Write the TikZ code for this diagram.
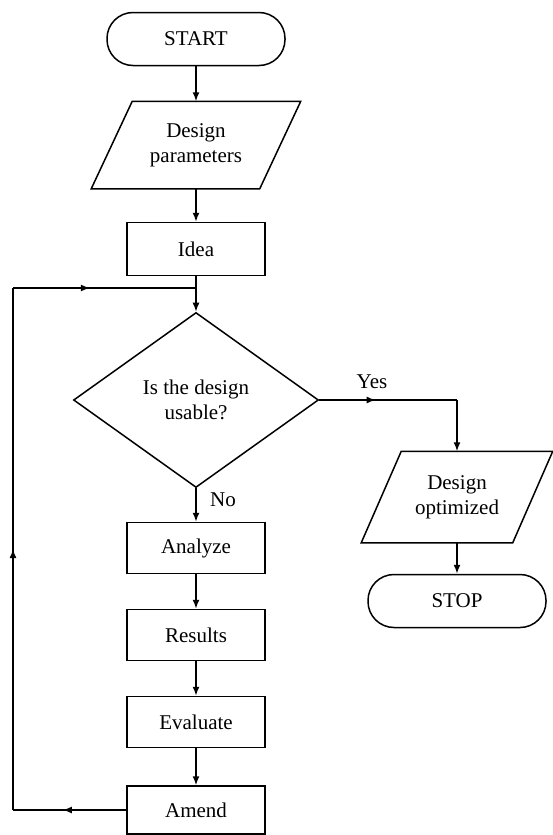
\documentclass[tikz,border=0pt]{standalone}
\usepackage{fontspec}
\setmainfont{Liberation Serif}
\usetikzlibrary{shapes.geometric,arrows.meta,decorations.markings}
\begin{document}
\begin{tikzpicture}[x=1pt,y=-1pt,
  line width=1.5pt,
  every node/.style={font=\fontsize{21}{25}\selectfont},
  arr/.style={-{Latex[length=9pt,width=7pt]}},
  midtip/.style={postaction={decorate},decoration={markings,mark=at position #1 with {\arrow{Latex[length=9pt,width=7pt]}}}},
  pill/.style={draw,rectangle,rounded corners=26pt,minimum width=178pt,minimum height=53pt,inner sep=0pt},
  procbox/.style={draw,rectangle,minimum width=138pt,minimum height=51pt,inner sep=0pt},
  iobox/.style={rectangle,align=center,inner sep=0pt},
  decision/.style={draw,diamond,minimum width=245pt,minimum height=175pt,inner sep=0pt,align=center},
  lbl/.style={inner sep=0pt}]
\useasboundingbox (0,0) rectangle (552,835);
% nodes
\node[pill] (start) at (196,39) {START};
\node[iobox,minimum width=167pt,minimum height=86pt] (dp) at (196,145) {Design\\parameters};
\draw ([xshift=20.5pt]dp.north west) -- ([xshift=20.5pt]dp.north east) -- ([xshift=-20.5pt]dp.south east) -- ([xshift=-20.5pt]dp.south west) -- cycle;
\node[procbox,minimum height=53pt] (idea) at (196,249) {Idea};
\node[decision] (dia) at (196,400) {Is the design\\usable?};
\node[iobox,minimum width=150pt,minimum height=90pt] (dopt) at (457,497) {Design\\optimized};
\draw ([xshift=20pt]dopt.north west) -- ([xshift=20pt]dopt.north east) -- ([xshift=-20pt]dopt.south east) -- ([xshift=-20pt]dopt.south west) -- cycle;
\node[pill] (stop) at (457,601) {STOP};
\node[procbox] (analyze) at (196,548) {Analyze};
\node[procbox] (results) at (196,635) {Results};
\node[procbox] (evaluate) at (196,722) {Evaluate};
\node[procbox,minimum height=48pt] (amend) at (196,810) {Amend};
\node[lbl] (yes) at (372,382) {Yes};
\node[lbl] (no) at (223,500) {No};
% coordinates
\coordinate (join) at (196,288);
\coordinate (ycorner) at (457,400);
\coordinate (lb) at (13,810);
\coordinate (lt) at (13,288);
% connectors
\draw[arr] (start) -- (dp);
\draw[arr] (dp) -- (idea);
\draw[arr] (idea) -- (dia);
\draw[midtip=0.41] (dia.east) -- (ycorner);
\draw[arr] (ycorner) -- (dopt.north);
\draw[arr] (dopt) -- (stop);
\draw[arr] (dia) -- (analyze);
\draw[arr] (analyze) -- (results);
\draw[arr] (results) -- (evaluate);
\draw[arr] (evaluate) -- (amend);
\draw[midtip=0.56] (amend.west) -- (lb);
\draw[midtip=0.5] (lb) -- (lt);
\draw[midtip=0.42] (lt) -- (join);
\end{tikzpicture}
\end{document}
